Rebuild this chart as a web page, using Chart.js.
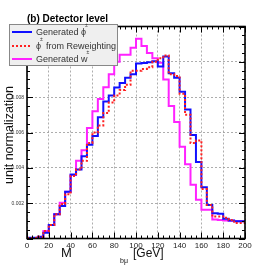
<!DOCTYPE html>
<html>
<head>
<meta charset="utf-8">
<script src="https://cdn.jsdelivr.net/npm/chart.js@4.4.1/dist/chart.umd.min.js"></script>
<style>
  html, body { margin: 0; padding: 0; background: #fff; }
  canvas { display: block; }
</style>
</head>
<body>
<canvas id="massChart" width="273" height="265"></canvas>
<script>
// bin edges of M_bmu [GeV]
const massEdges = [0, 5, 10, 15, 20, 25, 30, 35, 40, 45, 50, 55, 60, 65, 70, 75, 80, 85, 90, 95,
                   100, 105, 110, 115, 120, 125, 130, 135, 140, 145, 150, 155, 160, 165, 170, 175, 180, 185, 190, 195, 200];

// bin contents
const genPhi = [0.00004, 0.00004, 0.00004, 0.0001, 0.00033, 0.00077, 0.00137, 0.00184, 0.00264, 0.00362,
                0.0039, 0.00466, 0.0053, 0.0058, 0.00686, 0.00775, 0.0081, 0.00855, 0.0088, 0.0091,
                0.0093, 0.0099, 0.00993, 0.00997, 0.01003, 0.00973, 0.0103, 0.00935, 0.0091, 0.0083,
                0.0073, 0.00586, 0.00433, 0.0029, 0.0019, 0.00143, 0.0014, 0.00112, 0.00102, 0.00097];
const rewPhi = [0.00003, 0.00003, 0.00003, 0.0001, 0.00043, 0.00077, 0.00137, 0.00195, 0.0025, 0.00354,
                0.0039, 0.0044, 0.0054, 0.006, 0.0064, 0.0071, 0.0077, 0.0081, 0.0084, 0.0087,
                0.0095, 0.0095, 0.0096, 0.0097, 0.01, 0.0102, 0.01036, 0.0093, 0.0092, 0.0082,
                0.007, 0.0054, 0.00555, 0.0028, 0.0019, 0.00125, 0.00125, 0.00118, 0.00105, 0.00088];
const genW = [0.00003, 0.00003, 0.00003, 0.00008, 0.00043, 0.00077, 0.00137, 0.00202, 0.00264, 0.0036,
              0.0044, 0.005, 0.00625, 0.0072, 0.0079, 0.00856, 0.0093, 0.01, 0.0104, 0.0104,
              0.0108, 0.0113, 0.0109, 0.0105, 0.0102, 0.00995, 0.009, 0.0075, 0.0066, 0.0052,
              0.0042, 0.00304, 0.0022, 0.00163, 0.00163, 0.00107, 0.00105, 0.00102, 0.001, 0.00098];

const legendLabels = ['Generated \u03d5', '\u03d5  from Reweighting', 'Generated w'];
// text after which the "±" superscript goes, per legend row
const supAfter = ['Generated \u03d5', '\u03d5', 'Generated w'];

// histogram as step line: one point per left edge, last edge repeats the last bin
function steps(vals) {
    return massEdges.map((e, i) => ({ x: e, y: vals[Math.min(i, vals.length - 1)] }));
}

const FONT = '"Liberation Sans", Arial, Helvetica, sans-serif';

// frame, inward ticks (major + minor)
const framePlugin = {
    id: 'frame',
    afterDatasetsDraw(chart) {
        const { ctx, chartArea: a, scales: { x, y } } = chart;
        ctx.save();
        ctx.strokeStyle = '#000';
        ctx.lineWidth = 1;
        for (let v = 0; v <= 200; v += 5) {
            const px = Math.round(x.getPixelForValue(v)) + 0.5;
            const len = v % 20 === 0 ? 6 : 3;
            ctx.beginPath();
            ctx.moveTo(px, a.bottom); ctx.lineTo(px, a.bottom - len);
            ctx.moveTo(px, a.top); ctx.lineTo(px, a.top + len);
            ctx.stroke();
        }
        for (let k = 0; k <= 24; k++) {
            const py = Math.round(y.getPixelForValue(k * 0.0005)) + 0.5;
            const len = k % 4 === 0 ? 6 : 3;
            ctx.beginPath();
            ctx.moveTo(a.left, py); ctx.lineTo(a.left + len, py);
            ctx.moveTo(a.right, py); ctx.lineTo(a.right - len, py);
            ctx.stroke();
        }
        ctx.lineWidth = 1.6;
        ctx.strokeRect(a.left, a.top, a.right - a.left, a.bottom - a.top);
        ctx.restore();
    }
};

// legend box, title and axis titles
const textPlugin = {
    id: 'texts',
    afterDraw(chart) {
        const { ctx } = chart;
        const ds = chart.data.datasets;
        ctx.save();
        // legend
        ctx.fillStyle = '#efefef';
        ctx.fillRect(9, 24, 108, 41);
        ctx.strokeStyle = '#888';
        ctx.lineWidth = 1;
        ctx.strokeRect(9.5, 24.5, 108, 41);
        const rows = [32, 46, 59];
        ds.forEach((d, i) => {
            ctx.strokeStyle = d.borderColor;
            ctx.lineWidth = 2;
            ctx.setLineDash(d.borderDash || []);
            ctx.beginPath();
            ctx.moveTo(12, rows[i]); ctx.lineTo(32, rows[i]);
            ctx.stroke();
        });
        ctx.setLineDash([]);
        ctx.fillStyle = '#333';
        ctx.textBaseline = 'middle';
        ctx.textAlign = 'left';
        ctx.font = '9px ' + FONT;
        const supX = supAfter.map(t => 36 + ctx.measureText(t).width);
        legendLabels.forEach((t, i) => ctx.fillText(t, 36, rows[i] + 1));
        ctx.font = '5px ' + FONT;
        supX.forEach((sx, i) => ctx.fillText('\u00b1', sx - 1, rows[i] - 6));

        // title
        ctx.fillStyle = '#000';
        ctx.font = 'bold 10px ' + FONT;
        ctx.textBaseline = 'alphabetic';
        ctx.fillText('(b) Detector level', 27, 22);

        // x title
        ctx.fillStyle = '#111';
        ctx.font = '13px ' + FONT;
        ctx.fillText('M', 61, 257);
        ctx.font = '7px ' + FONT;
        ctx.fillText('b\u03bc', 120, 263);
        ctx.font = '12px ' + FONT;
        ctx.fillText('[GeV]', 133, 257);

        // y title
        ctx.translate(13, 135);
        ctx.rotate(-Math.PI / 2);
        ctx.textAlign = 'center';
        ctx.font = '12.5px ' + FONT;
        ctx.fillText('unit normalization', 0, 0);
        ctx.restore();
    }
};

const ctx = document.getElementById('massChart').getContext('2d');

const massChart = new Chart(ctx, {
    type: 'line',
    data: {
        datasets: [{
            label: legendLabels[0],
            data: steps(genPhi),
            borderColor: '#1010ff',
            borderWidth: 2,
            stepped: 'after',
            pointRadius: 0,
            fill: false,
            order: 2
        },
        {
            label: legendLabels[1],
            data: steps(rewPhi),
            borderColor: '#ff2020',
            borderWidth: 2,
            borderDash: [2, 2],
            stepped: 'after',
            pointRadius: 0,
            fill: false,
            order: 1
        },
        {
            label: legendLabels[2],
            data: steps(genW),
            borderColor: '#ff22ff',
            borderWidth: 2,
            stepped: 'after',
            pointRadius: 0,
            fill: false,
            order: 3
        }]
    },
    options: {
        responsive: false,
        animation: false,
        devicePixelRatio: 1,
        layout: { padding: { top: 26.5, right: 28, left: 0, bottom: 0 } },
        scales: {
            x: {
                type: 'linear',
                min: 0,
                max: 200,
                afterFit: s => { s.height = 26.5; },
                grid: { color: '#999', lineWidth: 0.8, drawTicks: false },
                border: { display: false, dash: [2, 2] },
                ticks: {
                    stepSize: 20,
                    padding: 2,
                    color: '#222',
                    font: { size: 8, family: FONT },
                    maxRotation: 0
                }
            },
            y: {
                min: 0,
                max: 0.012,
                afterFit: s => { s.width = 27; },
                grid: { color: '#999', lineWidth: 0.8, drawTicks: false },
                border: { display: false, dash: [2, 2] },
                ticks: {
                    stepSize: 0.002,
                    padding: 3,
                    color: '#333',
                    font: { size: 5, family: FONT },
                    callback: v => (v > 0.0001 && v < 0.0095) ? v.toFixed(3) : ''
                }
            }
        },
        plugins: {
            legend: { display: false },
            tooltip: { enabled: false }
        }
    },
    plugins: [framePlugin, textPlugin]
});
</script>
</body>
</html>
